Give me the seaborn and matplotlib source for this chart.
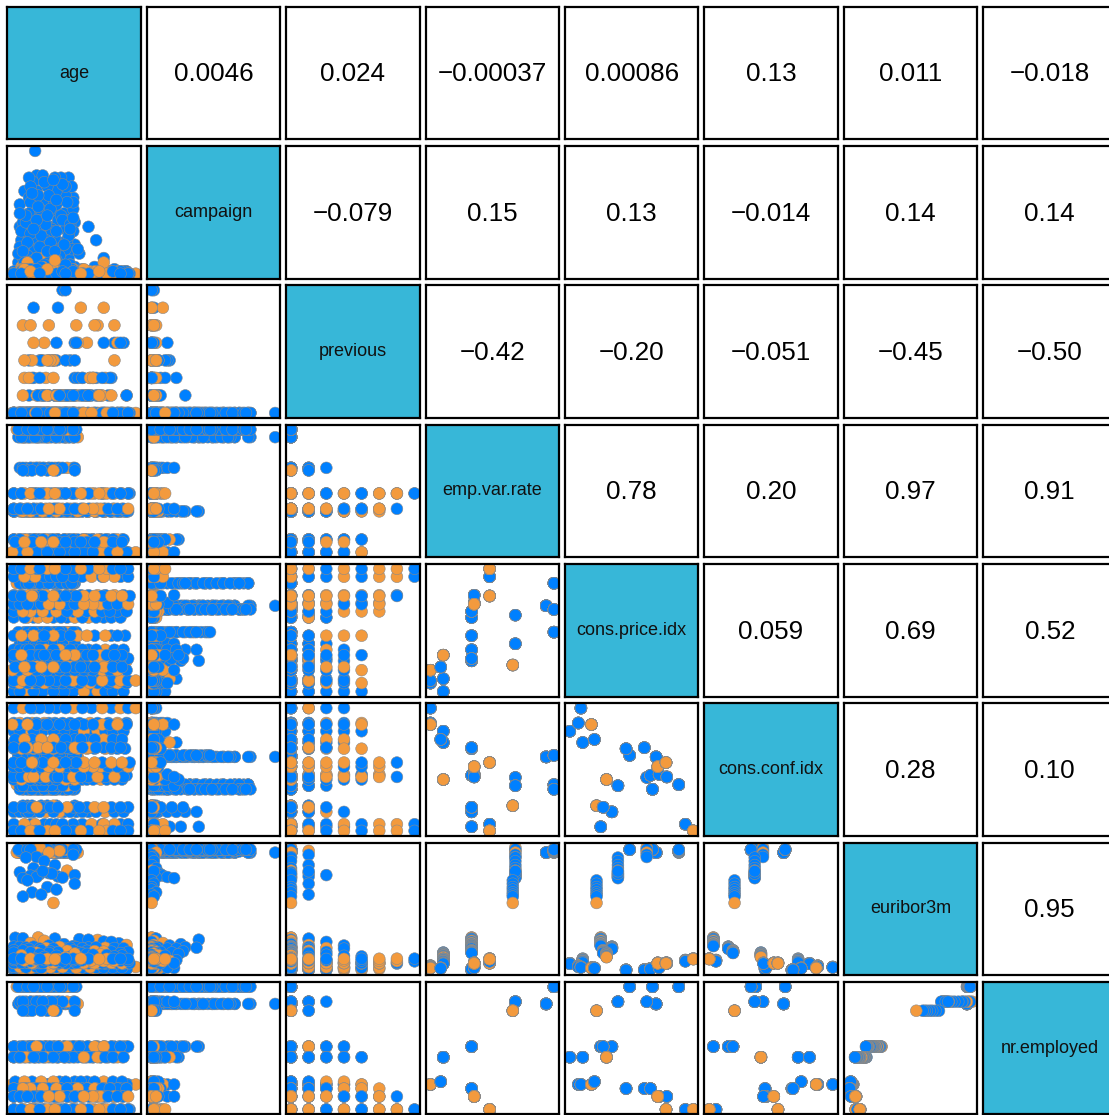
import numpy as np
import pandas as pd
import matplotlib
matplotlib.use("Agg")
import matplotlib.pyplot as plt
import seaborn as sns

sns.set_theme(style="white")
plt.rcParams["font.family"] = ["Liberation Sans", "DejaVu Sans"]

variables = ["age", "campaign", "previous", "emp.var.rate",
             "cons.price.idx", "cons.conf.idx", "euribor3m", "nr.employed"]

# Macro indicators of each contact month (May 2008 ... Nov 2010)
month_names = ["2008-05", "2008-06", "2008-07", "2008-08", "2008-10", "2008-11",
               "2008-12", "2009-03", "2009-04", "2009-05", "2009-06", "2009-07",
               "2009-08", "2009-09", "2009-10", "2009-11", "2009-12", "2010-03",
               "2010-04", "2010-05", "2010-06", "2010-07", "2010-08", "2010-09",
               "2010-10", "2010-11"]
month_emp_var_rate = [1.1, 1.4, 1.4, 1.4, -0.1, -0.1, -0.2, -1.8, -1.8, -1.8, -2.9, -2.9,
                      -2.9, -3.4, -3.4, -3.4, -3.0, -1.8, -1.8, -1.8, -1.7, -1.7, -1.7,
                      -1.1, -1.1, -1.1]
month_cons_price_idx = [93.994, 94.465, 93.918, 93.444, 93.798, 93.200, 92.756, 92.843,
                        93.075, 92.893, 92.963, 92.469, 92.201, 92.379, 92.431, 92.649,
                        92.713, 93.369, 93.749, 93.876, 94.055, 94.215, 94.027, 94.199,
                        94.601, 94.767]
month_cons_conf_idx = [-36.4, -41.8, -42.7, -36.1, -40.4, -42.0, -45.9, -50.0, -47.1,
                       -46.2, -40.8, -33.6, -31.4, -29.8, -26.9, -30.1, -33.0, -34.8,
                       -34.6, -40.0, -39.8, -40.3, -38.3, -37.5, -49.5, -50.8]
month_nr_employed = [5191.0, 5228.1, 5228.1, 5228.1, 5195.8, 5195.8, 5176.3, 5099.1,
                     5099.1, 5099.1, 5076.2, 5076.2, 5076.2, 5017.5, 5017.5, 5017.5,
                     5023.5, 5008.7, 5008.7, 5008.7, 4991.6, 4991.6, 4991.6, 4963.6,
                     4963.6, 4963.6]

# Client records, grouped by contact month (one inner list per month)
age = [
    [22, 28, 34, 40, 46, 52, 57, 25,
     24, 37, 45, 51, 42, 48, 57, 40, 25, 52,
     41, 27, 35, 52, 24, 38, 45, 30, 57, 33, 29, 48, 36, 21, 43, 54, 26, 39, 31, 50, 60, 34, 46, 28, 33, 54, 55, 23, 32, 58],
    [22, 28, 34, 40, 46, 52, 31, 49,
     45, 37, 52, 23, 40, 47, 33, 58,
     20, 44, 25, 51, 36, 28, 40, 57, 33, 47, 22, 38, 55, 31, 43, 26, 49, 35, 57, 29, 41, 53, 28, 56],
    [28, 34, 40, 46, 52, 57, 43, 37,
     50, 42, 36, 29, 53, 24, 45, 32,
     37, 29, 45, 52, 24, 33, 41, 58, 27, 48, 35, 31, 43, 56, 39, 26, 50, 34, 22, 46, 30, 54, 38, 44],
    [46, 33, 55, 39, 29, 52,
     32, 47, 25, 53, 38, 29, 44, 59, 35, 21, 50, 41, 27, 57, 36, 31, 48, 40],
    [35, 48, 29, 41, 57, 33],
    [26, 38, 45, 31, 53, 22, 41, 35, 58, 29, 47, 33, 50, 24, 43, 37],
    [27, 58, 40, 46, 30, 36, 24, 44],
    [19, 24, 61, 73, 77, 87, 48, 31, 34, 45, 67, 38, 82, 29, 51, 92, 41, 57],
    [18, 22, 59, 67, 78, 84, 90, 51, 31, 48, 72, 26, 55, 39, 63, 35, 44, 28],
    [18, 57, 66, 71, 82, 93, 28, 39, 36, 24, 53, 42, 77, 30, 47, 61, 33, 88],
    [18, 63, 66, 75, 79, 89, 32, 55, 29, 41, 58, 35, 70, 23, 46, 84, 38, 52],
    [18, 21, 43, 51, 65, 70, 80, 86, 32, 47, 25, 60, 39, 75, 28, 54],
    [18, 57, 68, 73, 78, 83, 47, 34, 37, 26, 51, 64, 31, 44, 90, 22],
    [18, 22, 50, 61, 73, 86, 92, 41, 30, 45, 68, 27, 55, 38, 80, 33],
    [18, 46, 57, 69, 82, 88, 93, 31, 98, 24, 41, 63, 35, 52, 76, 29],
    [21, 38, 53, 64, 76, 81, 92, 44, 33, 48, 17, 70, 27, 58, 40, 86],
    [19, 30, 58, 66, 77, 83, 89, 48, 36, 52, 25, 71, 44, 62],
    [18, 27, 49, 60, 71, 82, 91, 35, 31, 55, 78, 23, 44, 66, 38, 86],
    [18, 31, 44, 53, 67, 77, 82, 88, 34, 49, 27, 72, 40, 58, 25, 63],
    [18, 33, 41, 66, 71, 76, 86, 57, 29, 46, 81, 37, 60, 24, 53, 92],
    [18, 22, 46, 55, 63, 72, 83, 89, 33, 50, 68, 26, 42, 77, 59, 36],
    [18, 23, 35, 53, 57, 67, 78, 90, 39, 62, 28, 84, 45, 31, 73, 47],
    [18, 22, 31, 53, 75, 80, 86, 44, 27, 48, 70, 36, 93, 58, 41, 64],
    [18, 23, 37, 48, 64, 76, 94, 56, 31, 59, 82, 44, 30, 71, 52, 89],
    [18, 38, 42, 63, 69, 88, 93, 29, 32, 57, 76, 25, 46, 84, 77, 50],
    [18, 23, 57, 67, 79, 83, 93, 33, 52, 62, 29, 88, 40, 35, 74, 45],
]
campaign = [
    [22, 10, 20, 33, 28, 6, 35, 38,
     24, 33, 38, 28, 22, 15, 30, 10, 12, 36,
     2, 1, 3, 1, 2, 5, 1, 7, 3, 9, 12, 4, 14, 6, 17, 8, 20, 23, 26, 11, 2, 29, 32, 35, 45, 44, 19, 16, 56, 24],
    [32, 18, 12, 18, 38, 25, 42, 44,
     44, 27, 21, 20, 40, 25, 38, 14,
     1, 2, 1, 3, 4, 6, 2, 1, 8, 10, 13, 15, 5, 18, 21, 24, 27, 30, 33, 33, 36, 16, 44, 40],
    [28, 36, 6, 8, 40, 20, 8, 45,
     41, 30, 22, 40, 33, 8, 17, 12,
     1, 1, 2, 2, 3, 5, 7, 4, 9, 11, 14, 17, 20, 12, 23, 27, 25, 31, 28, 34, 37, 18, 42, 43],
    [20, 25, 23, 16, 19, 12,
     1, 2, 1, 3, 2, 4, 6, 1, 8, 10, 5, 12, 15, 26, 18, 21, 9, 27],
    [1, 2, 1, 3, 1, 2],
    [1, 2, 1, 3, 1, 2, 4, 5, 1, 6, 2, 8, 3, 11, 1, 2],
    [1, 2, 1, 1, 3, 1, 2, 1],
    [1, 2, 1, 1, 2, 1, 4, 1, 1, 3, 22, 2, 1, 6, 14, 2, 9, 1],
    [1, 1, 2, 1, 1, 3, 1, 2, 2, 1, 16, 4, 21, 1, 3, 8, 12, 1],
    [1, 1, 2, 1, 1, 1, 3, 2, 1, 2, 1, 15, 3, 5, 1, 10, 2, 1],
    [2, 1, 1, 3, 1, 1, 1, 5, 1, 3, 2, 13, 1, 4, 7, 1, 2, 1],
    [1, 1, 2, 3, 1, 1, 2, 1, 1, 2, 6, 12, 9, 2, 3, 1],
    [1, 2, 1, 1, 2, 1, 5, 1, 1, 2, 4, 1, 7, 3, 1, 2],
    [1, 1, 2, 1, 3, 1, 1, 6, 1, 2, 1, 5, 3, 1, 2, 8],
    [1, 1, 2, 1, 1, 2, 1, 1, 1, 2, 1, 1, 3, 2, 1, 1],
    [1, 2, 1, 1, 2, 1, 1, 3, 1, 3, 1, 2, 6, 1, 11, 2],
    [1, 2, 1, 1, 1, 2, 1, 3, 1, 2, 1, 4, 1, 2],
    [1, 1, 2, 1, 1, 1, 2, 3, 1, 1, 2, 3, 1, 2, 5, 1],
    [1, 2, 1, 1, 1, 2, 1, 1, 1, 2, 1, 1, 3, 1, 2, 1],
    [1, 1, 2, 1, 1, 3, 1, 2, 1, 2, 1, 4, 1, 3, 1, 2],
    [1, 2, 1, 1, 1, 2, 1, 1, 1, 1, 2, 3, 1, 8, 2, 1],
    [1, 1, 2, 1, 3, 1, 1, 2, 1, 2, 1, 1, 11, 3, 1, 2],
    [1, 1, 2, 1, 1, 2, 1, 3, 1, 2, 1, 4, 1, 2, 1, 3],
    [1, 2, 1, 1, 1, 2, 1, 3, 1, 1, 2, 3, 1, 2, 5, 1],
    [1, 2, 1, 1, 1, 2, 1, 3, 1, 2, 1, 3, 1, 1, 6, 2],
    [1, 1, 2, 1, 1, 2, 1, 3, 1, 1, 2, 1, 3, 1, 2, 7],
]
previous = [
    [0, 0, 0, 0, 0, 0, 0, 0,
     0, 0, 0, 0, 0, 0, 0, 0, 0, 0,
     0, 0, 0, 0, 0, 0, 0, 0, 0, 0, 0, 0, 0, 0, 0, 0, 0, 0, 0, 0, 0, 0, 0, 0, 0, 0, 0, 0, 0, 0],
    [0, 0, 0, 0, 0, 0, 0, 0,
     0, 0, 0, 0, 0, 0, 0, 0,
     0, 0, 0, 0, 0, 0, 0, 0, 0, 0, 0, 0, 0, 0, 0, 0, 0, 0, 0, 0, 0, 0, 0, 0],
    [0, 0, 0, 0, 0, 0, 0, 0,
     0, 0, 0, 0, 0, 0, 0, 0,
     0, 0, 0, 0, 0, 0, 0, 0, 0, 0, 0, 0, 0, 0, 0, 0, 0, 0, 0, 0, 0, 0, 0, 0],
    [0, 0, 0, 0, 0, 0,
     0, 0, 0, 0, 0, 0, 0, 0, 0, 0, 0, 0, 0, 0, 0, 0, 0, 0],
    [0, 1, 0, 0, 1, 0],
    [0, 0, 1, 0, 0, 0, 1, 0, 2, 0, 1, 0, 0, 0, 0, 1],
    [0, 1, 0, 0, 0, 1, 0, 0],
    [0, 0, 0, 1, 0, 0, 0, 0, 0, 1, 0, 0, 2, 0, 0, 1, 3, 0],
    [0, 0, 0, 1, 0, 0, 0, 0, 0, 0, 1, 0, 0, 2, 0, 3, 0, 1],
    [0, 0, 1, 0, 0, 0, 0, 0, 0, 0, 1, 0, 0, 2, 0, 0, 1, 0],
    [0, 0, 1, 0, 0, 0, 0, 0, 0, 1, 0, 0, 2, 0, 3, 4, 1, 0],
    [0, 0, 0, 0, 1, 0, 0, 0, 0, 1, 0, 2, 0, 1, 3, 0],
    [0, 0, 1, 0, 0, 0, 0, 1, 0, 0, 1, 0, 2, 3, 4, 0],
    [0, 0, 1, 0, 0, 0, 0, 0, 0, 1, 2, 0, 3, 4, 1, 0],
    [0, 0, 0, 1, 0, 0, 0, 0, 0, 1, 0, 2, 0, 3, 1, 0],
    [0, 0, 0, 1, 0, 0, 0, 0, 0, 1, 0, 2, 0, 3, 0, 4],
    [0, 0, 1, 0, 0, 0, 0, 0, 0, 1, 2, 0, 3, 0],
    [0, 0, 0, 1, 0, 0, 0, 0, 0, 1, 2, 0, 3, 4, 1, 0],
    [0, 0, 0, 1, 0, 0, 0, 0, 0, 1, 0, 2, 1, 0, 0, 2],
    [0, 0, 0, 1, 0, 0, 0, 0, 0, 1, 2, 3, 4, 5, 0, 1],
    [0, 0, 0, 1, 0, 0, 0, 0, 0, 1, 2, 0, 3, 4, 5, 0],
    [0, 0, 0, 1, 0, 0, 0, 0, 0, 1, 2, 3, 0, 4, 5, 6],
    [0, 0, 0, 1, 0, 0, 0, 0, 0, 1, 2, 3, 0, 4, 5, 0],
    [0, 0, 0, 1, 0, 0, 0, 0, 6, 4, 1, 2, 3, 5, 0, 0],
    [0, 0, 0, 1, 0, 0, 0, 0, 0, 1, 2, 3, 4, 5, 6, 7],
    [0, 0, 0, 1, 0, 0, 0, 0, 7, 6, 5, 4, 3, 2, 1, 0],
]
euribor3m = [
    [4.855, 4.856, 4.857, 4.858, 4.859, 4.86, 4.855, 4.856,
     4.855, 4.856, 4.857, 4.858, 4.859, 4.86, 4.855, 4.856, 4.857, 4.858,
     4.855, 4.856, 4.857, 4.858, 4.859, 4.86, 4.855, 4.856, 4.857, 4.858, 4.859, 4.86, 4.855, 4.856, 4.857,
     4.858, 4.859, 4.86, 4.855, 4.856, 4.857, 4.858, 4.859, 4.86, 4.855, 4.856, 4.857, 4.858, 4.859, 4.86],
    [4.87, 4.88, 4.89, 4.9, 4.91, 4.92, 4.93, 4.94,
     4.86, 4.87, 4.88, 4.89, 4.9, 4.91, 4.92, 4.93,
     4.86, 4.865, 4.87, 4.875, 4.88, 4.885, 4.89, 4.895, 4.9, 4.905, 4.91, 4.915, 4.92, 4.925, 4.93, 4.935,
     4.94, 4.945, 4.95, 4.955, 4.96, 4.96, 4.96, 4.96],
    [4.956, 4.958, 4.96, 4.962, 4.964, 4.966, 4.968, 4.97,
     4.955, 4.957, 4.959, 4.961, 4.963, 4.965, 4.967, 4.969,
     4.955, 4.956, 4.957, 4.958, 4.959, 4.96, 4.961, 4.962, 4.963, 4.964, 4.965, 4.966, 4.967, 4.968, 4.969,
     4.97, 4.955, 4.957, 4.959, 4.961, 4.963, 4.965, 4.967, 4.969],
    [4.963, 4.964, 4.965, 4.966, 4.967, 4.968,
     4.963, 4.964, 4.965, 4.966, 4.967, 4.968, 4.963, 4.964, 4.965, 4.966, 4.967, 4.968, 4.963, 4.964, 4.965,
     4.966, 4.967, 4.968],
    [5.045, 4.92, 4.97, 4.86, 4.78, 4.70],
    [4.68, 4.55, 4.41, 4.30, 4.21, 4.15, 4.12, 4.08, 4.05, 4.03, 4.00, 3.98, 3.96, 3.94, 4.10, 4.19],
    [3.86, 3.74, 3.62, 3.53, 3.43, 3.35, 3.28, 3.05],
    [1.80, 1.78, 1.75, 1.72, 1.66, 1.60, 1.56, 1.51, 1.81, 1.77, 1.73, 1.69, 1.65, 1.61, 1.57, 1.54, 1.52, 1.50],
    [1.48, 1.47, 1.46, 1.45, 1.44, 1.43, 1.42, 1.41, 1.48, 1.47, 1.46, 1.45, 1.44, 1.43, 1.42, 1.41, 1.41, 1.40],
    [1.35, 1.34, 1.33, 1.32, 1.30, 1.29, 1.27, 1.26, 1.35, 1.34, 1.33, 1.31, 1.30, 1.29, 1.28, 1.27, 1.26, 1.25],
    [1.26, 1.24, 1.22, 1.20, 1.18, 1.16, 1.14, 1.12, 1.27, 1.25, 1.23, 1.21, 1.19, 1.17, 1.15, 1.13, 1.11, 1.10],
    [1.04, 1.02, 1.00, 0.98, 0.96, 0.94, 0.93, 0.91, 1.05, 1.03, 1.01, 0.99, 0.97, 0.95, 0.92, 0.90],
    [0.885, 0.883, 0.880, 0.877, 0.874, 0.871, 0.868, 0.864, 0.884, 0.882, 0.879, 0.876, 0.873, 0.870, 0.866, 0.861],
    [0.80, 0.795, 0.79, 0.785, 0.78, 0.77, 0.765, 0.76, 0.80, 0.79, 0.78, 0.77, 0.77, 0.76, 0.755, 0.75],
    [0.75, 0.749, 0.746, 0.743, 0.741, 0.738, 0.735, 0.732, 0.75, 0.748, 0.745, 0.742, 0.74, 0.737, 0.734, 0.73],
    [0.722, 0.721, 0.72, 0.719, 0.717, 0.716, 0.714, 0.712, 0.722, 0.72, 0.719, 0.718, 0.716, 0.715, 0.713, 0.711],
    [0.72, 0.718, 0.716, 0.713, 0.711, 0.708, 0.705, 0.702, 0.72, 0.717, 0.714, 0.71, 0.706, 0.70],
    [0.65, 0.649, 0.647, 0.645, 0.643, 0.641, 0.639, 0.637, 0.65, 0.648, 0.645, 0.642, 0.64, 0.638, 0.636, 0.634],
    [0.66, 0.658, 0.656, 0.654, 0.651, 0.648, 0.645, 0.642, 0.66, 0.657, 0.655, 0.652, 0.649, 0.646, 0.644, 0.64],
    [0.70, 0.698, 0.694, 0.69, 0.686, 0.682, 0.678, 0.672, 0.70, 0.696, 0.692, 0.688, 0.684, 0.68, 0.675, 0.67],
    [0.75, 0.748, 0.743, 0.738, 0.733, 0.729, 0.726, 0.722, 0.75, 0.745, 0.74, 0.735, 0.73, 0.727, 0.724, 0.72],
    [0.90, 0.898, 0.894, 0.89, 0.886, 0.882, 0.878, 0.872, 0.90, 0.896, 0.892, 0.888, 0.884, 0.88, 0.876, 0.87],
    [0.90, 0.899, 0.897, 0.894, 0.891, 0.888, 0.885, 0.882, 0.90, 0.898, 0.895, 0.892, 0.889, 0.886, 0.883, 0.88],
    [0.90, 0.899, 0.896, 0.893, 0.89, 0.887, 0.884, 0.881, 0.90, 0.897, 0.894, 0.891, 0.888, 0.885, 0.882, 0.879],
    [1.0, 0.998, 0.993, 0.988, 0.983, 0.975, 0.965, 0.955, 1.0, 0.995, 0.99, 0.985, 0.98, 0.97, 0.96, 0.95],
    [1.05, 1.049, 1.047, 1.044, 1.042, 1.039, 1.036, 1.032, 1.05, 1.048, 1.045, 1.043, 1.04, 1.037, 1.034, 1.03],
]
subscribed = [
    [0, 0, 0, 0, 0, 0, 0, 0,
     0, 0, 0, 0, 0, 0, 0, 0, 0, 0,
     1, 0, 0, 0, 1, 0, 0, 0, 0, 0, 0, 0, 0, 0, 0, 0, 0, 0, 0, 0, 1, 0, 0, 0, 0, 0, 0, 0, 0, 0],
    [0, 0, 0, 0, 0, 0, 0, 0,
     0, 0, 0, 0, 0, 0, 0, 0,
     1, 1, 0, 0, 0, 0, 0, 0, 0, 0, 0, 0, 0, 0, 0, 0, 0, 0, 0, 0, 0, 0, 0, 0],
    [0, 0, 0, 0, 0, 0, 0, 0,
     0, 0, 0, 0, 0, 0, 0, 0,
     0, 0, 1, 0, 0, 0, 0, 0, 0, 0, 0, 0, 0, 0, 0, 0, 0, 0, 0, 0, 0, 0, 0, 0],
    [0, 0, 0, 0, 0, 0,
     0, 0, 0, 1, 0, 0, 0, 0, 0, 0, 0, 0, 0, 0, 0, 0, 0, 0],
    [1, 1, 0, 1, 0, 0],
    [0, 0, 0, 0, 1, 0, 0, 0, 0, 0, 0, 0, 0, 0, 0, 0],
    [0, 0, 0, 0, 0, 0, 0, 1],
    [0, 0, 0, 1, 0, 0, 0, 0, 1, 0, 0, 1, 0, 1, 0, 1, 0, 0],
    [0, 0, 0, 0, 1, 0, 0, 0, 0, 1, 0, 0, 0, 1, 0, 0, 0, 0],
    [0, 0, 0, 1, 0, 0, 0, 0, 0, 0, 1, 0, 1, 0, 0, 0, 1, 0],
    [0, 0, 0, 1, 0, 0, 0, 0, 0, 0, 1, 0, 0, 1, 0, 0, 0, 1],
    [0, 0, 0, 1, 0, 0, 0, 1, 0, 1, 0, 0, 1, 0, 0, 0],
    [0, 0, 0, 1, 0, 0, 0, 0, 0, 1, 0, 1, 0, 0, 0, 0],
    [0, 1, 0, 0, 0, 1, 0, 0, 1, 0, 1, 0, 0, 1, 0, 0],
    [0, 0, 1, 0, 0, 1, 0, 0, 1, 1, 0, 0, 0, 0, 1, 0],
    [0, 0, 0, 0, 1, 0, 0, 0, 0, 0, 1, 0, 1, 0, 0, 1],
    [0, 0, 0, 0, 1, 0, 0, 0, 1, 0, 1, 0, 1, 0],
    [0, 0, 0, 1, 0, 0, 0, 0, 1, 0, 1, 1, 1, 1, 0, 0],
    [0, 0, 0, 0, 1, 0, 0, 0, 1, 0, 1, 0, 1, 1, 0, 0],
    [0, 0, 0, 0, 1, 0, 0, 0, 1, 1, 0, 1, 1, 1, 0, 0],
    [0, 1, 0, 0, 0, 0, 0, 0, 0, 1, 1, 0, 1, 0, 1, 0],
    [0, 0, 0, 0, 1, 0, 0, 0, 1, 0, 1, 1, 0, 1, 1, 0],
    [0, 0, 0, 0, 1, 0, 0, 0, 0, 1, 1, 0, 1, 0, 1, 1],
    [0, 0, 0, 0, 1, 0, 0, 0, 0, 0, 1, 1, 1, 1, 0, 1],
    [0, 0, 0, 0, 1, 0, 0, 0, 1, 0, 0, 1, 0, 1, 1, 0],
    [0, 0, 0, 0, 1, 0, 0, 0, 0, 1, 1, 0, 1, 0, 1, 1],
]

# Pearson correlations printed in the upper triangle (row by row)
corr_labels = [
    ["0.0046", "0.024", "\u22120.00037", "0.00086", "0.13", "0.011", "\u22120.018"],
    ["\u22120.079", "0.15", "0.13", "\u22120.014", "0.14", "0.14"],
    ["\u22120.42", "\u22120.20", "\u22120.051", "\u22120.45", "\u22120.50"],
    ["0.78", "0.20", "0.97", "0.91"],
    ["0.059", "0.69", "0.52"],
    ["0.28", "0.10"],
    ["0.95"],
]

# ---- assemble the data frame -------------------------------------------------
def flatten(nested):
    return [v for group in nested for v in group]

month = np.array([m for m, group in enumerate(age) for _ in group])
df = pd.DataFrame({
    "age": flatten(age),
    "campaign": flatten(campaign),
    "previous": flatten(previous),
    "emp.var.rate": np.array(month_emp_var_rate)[month],
    "cons.price.idx": np.array(month_cons_price_idx)[month],
    "cons.conf.idx": np.array(month_cons_conf_idx)[month],
    "euribor3m": flatten(euribor3m),
    "nr.employed": np.array(month_nr_employed)[month],
    "y": flatten(subscribed),
})

palette = {0: "#0080FF", 1: "#F39A3D"}
diag_fill = "#37B7D8"

# axis limits with 4% padding, like base-R plots
limits = {}
for v in variables:
    lo, hi = df[v].min(), df[v].max()
    pad = 0.04 * (hi - lo)
    limits[v] = (lo - pad, hi + pad)

W, H = 1109, 1115
fig = plt.figure(figsize=(W / 100, H / 100), dpi=100)
fig.patch.set_facecolor("white")

x0, y0, pitch_x, pitch_y, pw, ph = 7.3, 6.7, 139.4, 139.3, 133.4, 132.6
n = len(variables)
for i in range(n):
    for j in range(n):
        left = x0 + pitch_x * j
        top = y0 + pitch_y * i
        ax = fig.add_axes([left / W, 1 - (top + ph) / H, pw / W, ph / H])
        ax.set_xticks([])
        ax.set_yticks([])
        for sp in ax.spines.values():
            sp.set_color("black")
            sp.set_linewidth(1.6)
            sp.set_visible(True)
        if i == j:
            ax.set_facecolor(diag_fill)
            ax.text(0.5, 0.5, variables[i], ha="center", va="center",
                    fontsize=13, color="#111111", transform=ax.transAxes)
        elif i < j:
            ax.set_facecolor("white")
            ax.text(0.5, 0.49, corr_labels[i][j - i - 1], ha="center", va="center",
                    fontsize=18.7, color="black", transform=ax.transAxes)
        else:
            ax.set_facecolor("white")
            sns.scatterplot(data=df, x=variables[j], y=variables[i], hue="y",
                            palette=palette, s=72, edgecolor="#8a8a8a",
                            linewidth=0.4, legend=False, ax=ax)
            ax.set_xlim(limits[variables[j]])
            ax.set_ylim(limits[variables[i]])
            ax.set_xlabel("")
            ax.set_ylabel("")
            ax.set_xticks([])
            ax.set_yticks([])

fig.savefig("out.png", dpi=100)
